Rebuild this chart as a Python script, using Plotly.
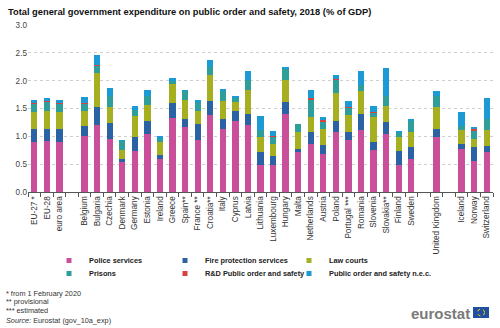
import plotly.graph_objects as go

categories = ["EU-27 *", "EU-28", "euro area", " ",
              "Belgium", "Bulgaria", "Czechia", "Denmark", "Germany", "Estonia", "Ireland",
              "Greece", "Spain**", "France **", "Croatia**", "Italy", "Cyprus", "Latvia",
              "Lithuania", "Luxembourg", "Hungary", "Malta", "Netherlands", "Austria",
              "Poland", "Portugal ***", "Romania", "Slovenia", "Slovakia**", "Finland", "Sweden",
              "  ", "United Kingdom", "   ", "Iceland", "Norway", "Switzerland"]

police = [0.90, 0.92, 0.90, None,
          1.01, 1.20, 0.95, 0.54, 0.74, 1.04, 0.60,
          1.33, 1.17, 0.94, 1.38, 1.13, 1.28, 1.20,
          0.49, 0.48, 1.40, 0.71, 0.86, 0.68,
          1.08, 0.93, 1.12, 0.75, 1.04, 0.49, 0.59,
          None, 0.99, None, 0.77, 0.56, 0.71]
fire = [0.23, 0.21, 0.23, None,
        0.18, 0.33, 0.29, 0.05, 0.24, 0.24, 0.07,
        0.26, 0.15, 0.28, 0.25, 0.18, 0.17, 0.21,
        0.22, 0.17, 0.21, 0.07, 0.21, 0.17,
        0.20, 0.15, 0.28, 0.14, 0.21, 0.25, 0.21,
        None, 0.15, None, 0.09, 0.25, 0.12]
law = [0.31, 0.33, 0.31, None,
       0.27, 0.60, 0.29, 0.16, 0.39, 0.28, 0.22,
       0.35, 0.33, 0.24, 0.47, 0.32, 0.17, 0.42,
       0.27, 0.21, 0.41, 0.30, 0.28, 0.28,
       0.50, 0.31, 0.41, 0.46, 0.29, 0.24, 0.27,
       None, 0.38, None, 0.25, 0.15, 0.29]
prisons = [0.15, 0.16, 0.15, None,
           0.13, 0.14, 0.20, 0.17, 0.10, 0.17, 0.06,
           0.05, 0.17, 0.16, 0.15, 0.20, 0.08, 0.18,
           0.13, 0.14, 0.20, 0.14, 0.31, 0.13,
           0.24, 0.13, 0.12, 0.08, 0.19, 0.09, 0.22,
           None, 0.21, None, 0.08, 0.15, 0.19]
rnd = [0.01, 0.02, 0.01, None,
       0.01, 0.02, 0.00, 0.00, 0.00, 0.00, 0.00,
       0.00, 0.00, 0.00, 0.00, 0.00, 0.00, 0.00,
       0.00, 0.01, 0.00, 0.00, 0.02, 0.03,
       0.01, 0.01, 0.00, 0.01, 0.00, 0.00, 0.00,
       None, 0.00, None, 0.00, 0.02, 0.00]
nec = [0.06, 0.04, 0.05, None,
       0.11, 0.18, 0.14, 0.01, 0.08, 0.11, 0.06,
       0.05, 0.01, 0.03, 0.12, 0.01, 0.01, 0.17,
       0.26, 0.08, 0.02, 0.00, 0.15, 0.05,
       0.08, 0.11, 0.24, 0.10, 0.49, 0.03, 0.01,
       None, 0.08, None, 0.24, 0.04, 0.38]

series_names = ["Police services", "Fire protection services", "Law courts",
                "Prisons", "R&D Public order and safety", "Public order and safety n.e.c."]
series_values = [police, fire, law, prisons, rnd, nec]
colors = ["#C94F9A", "#2A62A3", "#A6AF1F", "#2F9E9A", "#D9413F", "#1B9AD6"]

FONT = "Liberation Sans, Arial, sans-serif"

PH = 167.0  # plot height in px
PW = 465.0  # plot width in px


def py(pix):
    return (192 - pix) / PH


def px(pix):
    return (pix - 28) / PW


legend_ids = ["legend", "legend2", "legend3", "legend4", "legend5", "legend6"]
# legend grid placement (text start x, row center y) in pixels
text_x = [90, 206, 330]
row_y = [260, 273]

fig = go.Figure()
for name, vals, col in zip(series_names, series_values, colors):
    fig.add_trace(go.Bar(x=categories, y=vals, name=name, marker_color=col,
                         marker_line_width=0, showlegend=False, legendgroup=name))
# legend entries with small square symbols
for i, (name, col) in enumerate(zip(series_names, colors)):
    fig.add_trace(go.Scatter(x=[None], y=[None], mode="markers", name=name,
                             marker=dict(symbol="square", size=5, color=col),
                             legendgroup=name, showlegend=True, legend=legend_ids[i]))

layout_legends = {}
for i, lid in enumerate(legend_ids):
    col_i = i % 3
    row_i = i // 3
    layout_legends[lid] = dict(
        x=px(text_x[col_i] - 41), xanchor="left",
        y=py(row_y[row_i] - 14), yanchor="top",
        font=dict(family=FONT, size=7.35, color="#222", weight="bold"),
        itemwidth=30, bgcolor="rgba(0,0,0,0)", borderwidth=0,
    )

fig.update_layout(
    width=500, height=328,
    margin=dict(l=28, r=7, t=25, b=136, autoexpand=False),
    barmode="stack", bargap=0.5,
    paper_bgcolor="white", plot_bgcolor="white",
    font=dict(family=FONT, size=9, color="#333"),
    title=dict(text="<b>Total general government expenditure on public order and safety, 2018 (% of GDP)</b>",
               x=0.016, xanchor="left", y=0.963, yanchor="middle",
               font=dict(family=FONT, size=9.3, color="#111")),
    xaxis=dict(type="category", categoryorder="array", categoryarray=categories,
               tickangle=-90, tickfont=dict(family=FONT, size=8.2, color="#333"),
               showline=True, linecolor="#555", linewidth=1, automargin=False,
               ticks="outside", tickson="boundaries", ticklen=4, tickcolor="#555",
               showgrid=False, range=[-0.5, len(categories) - 0.5]),
    yaxis=dict(range=[0, 3.0], dtick=0.5, tickformat=".1f", automargin=False,
               tickfont=dict(family=FONT, size=8.2, color="#444"),
               showgrid=True, gridcolor="#cfcfcf", griddash="dot", gridwidth=1,
               zeroline=False, showline=False, ticks=""),
    **layout_legends,
)

notes = ["* from 1 February 2020", "** provisional", "*** estimated",
         "<i>Source:</i> Eurostat (gov_10a_exp)"]
note_y = [293, 301.5, 310, 320]
for t, yy in zip(notes, note_y):
    fig.add_annotation(text=t, xref="paper", yref="paper",
                       x=px(4), y=py(yy),
                       xanchor="left", yanchor="middle", showarrow=False,
                       font=dict(family=FONT, size=7.3, color="#333"))

# eurostat logo
fig.add_annotation(text="<b>eurostat</b>", xref="paper", yref="paper",
                   x=px(472), y=py(313), xanchor="right", yanchor="middle",
                   showarrow=False, font=dict(family=FONT, size=15, color="#7a7a7a"))
fig.add_shape(type="rect", xref="paper", yref="paper",
              x0=px(473), x1=px(489), y0=py(318), y1=py(307),
              fillcolor="#1f4fa0", line=dict(width=0))
fig.add_shape(type="circle", xref="paper", yref="paper",
              x0=px(477.5), x1=px(484.5), y0=py(316), y1=py(309),
              line=dict(color="#ffd200", width=1, dash="dot"))

fig.write_html("out.html")
